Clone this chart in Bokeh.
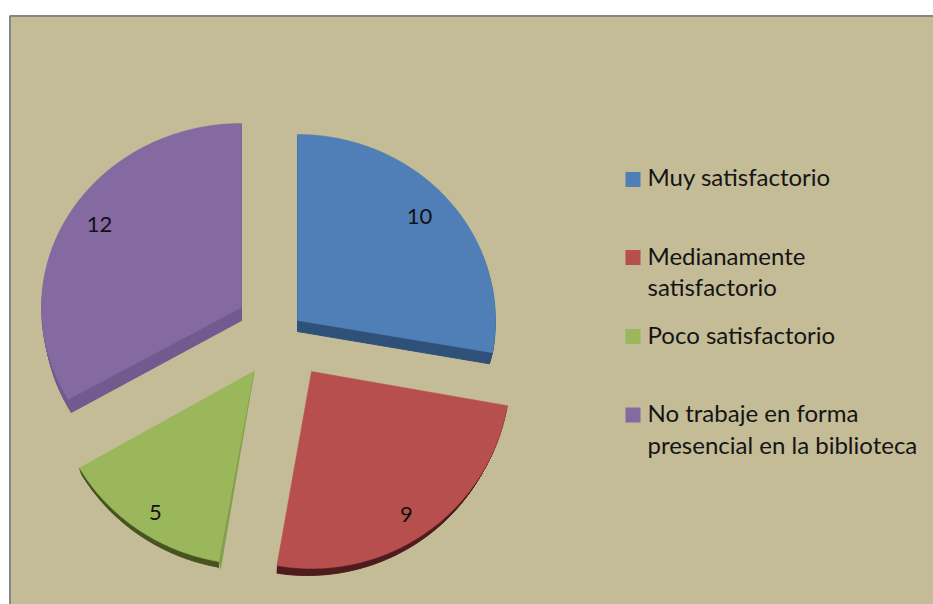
import numpy as np
from bokeh.plotting import figure
from bokeh.models import Range1d
from bokeh.core.properties import value
from bokeh.embed import file_html
from bokeh.resources import INLINE

categories = ["Muy satisfactorio", "Medianamente satisfactorio", "Poco satisfactorio",
              "No trabaje en forma presencial en la biblioteca"]
values = [10, 9, 5, 12]
top_colors = ["#4f7fb6", "#b64f4d", "#9ab75c", "#8569a1"]
side_colors = ["#2f5078", "#4f1c1e", "#48541f", "#735a8e"]
legend_lines = [["Muy satisfactorio"], ["Medianamente", "satisfactorio"],
                ["Poco satisfactorio"], ["No trabaje en forma", "presencial en la biblioteca"]]

# geometry of the exploded, tilted pie (page pixels)
apex = [(297, 320), (311, 371), (253, 371), (241, 307)]
radii = [(198, 186), (199, 197), (201, 193), (200, 184)]
depth = [(-3, 11), (-4, 7), (2, 6), (3, 13)]
with_radial_side = [True, False, False, True]
label_pos = [(419, 216), (406, 514), (155, 512), (99, 224)]
legend_y = [179, 257, 336, 414.5]
legend_text_y = [[176], [255, 286], [334], [412, 444]]

W, H = 933, 604
p = figure(width=W, height=H, output_backend="svg", toolbar_location=None,
           x_range=Range1d(0, W), y_range=Range1d(H, 0), min_border=0,
           outline_line_color=None, background_fill_color="white", border_fill_color="white")
p.axis.visible = False
p.grid.visible = False

p.quad(left=[9.5], right=[W + 2], top=[15.5], bottom=[H + 2], fill_color="#c4bc96",
       line_color="#858585", line_width=2)

cum = np.cumsum([0] + values)
total = cum[-1]
for i in range(len(values)):
    t = np.radians(np.linspace(cum[i], cum[i + 1], 90) * 360 / total)
    (ax, ay), (rx, ry), (dx, dy) = apex[i], radii[i], depth[i]
    arc_x = ax + rx * np.sin(t)
    arc_y = ay - ry * np.cos(t)
    xs = np.r_[ax, arc_x]
    ys = np.r_[ay, arc_y]
    base_x, base_y = (xs, ys) if with_radial_side[i] else (arc_x, arc_y)
    lo, hi = base_x.min(), base_x.max()
    # side of the slice: a shifted copy swept under the top face, kept inside the slice's width
    for f in np.linspace(0.1, 1, 8):
        p.patch(np.clip(base_x + dx * f, lo, hi), base_y + dy * f,
                fill_color=side_colors[i], line_color=side_colors[i], line_width=1)
    if i == 2:
        # inner wall of the small slice, seen on its right edge
        p.patch([ax, arc_x[0], arc_x[0] + 2, ax + 1], [ay, arc_y[0], arc_y[0] + 9, ay],
                fill_color="#84a04a", line_color=None)
    p.patch(xs, ys, fill_color=top_colors[i], line_color=top_colors[i], line_width=0.5)
    p.text([label_pos[i][0]], [label_pos[i][1]], text=[str(values[i])], text_font=value("Lato"),
           text_font_size="22px", text_color="#111111", text_align="center", text_baseline="middle")
    p.scatter([632.5], [legend_y[i]], marker="square", size=15, fill_color=top_colors[i], line_color=None)
    for line, y in zip(legend_lines[i], legend_text_y[i]):
        p.text([647], [y], text=[line], text_font=value("Lato"), text_font_size="24px",
               text_color="#141414", text_align="left", text_baseline="middle")

open("out.html", "w").write(file_html(p, INLINE))
